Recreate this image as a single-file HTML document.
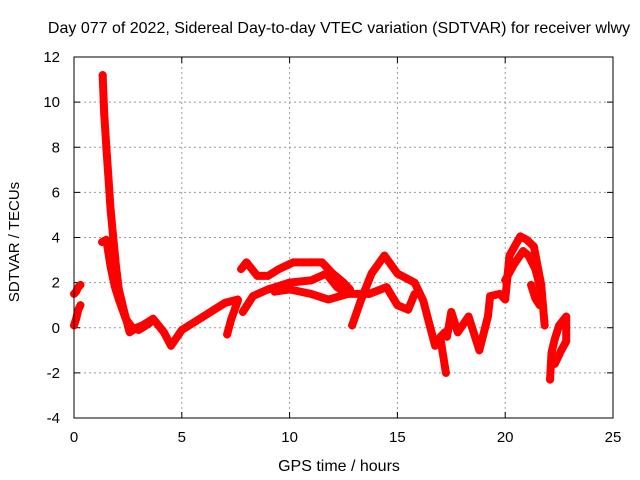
<!DOCTYPE html>
<html><head><meta charset="utf-8"><style>
body{margin:0;background:#fff}
svg{display:block;font-family:"Liberation Sans",sans-serif}
</style></head><body>
<svg id="chart" width="640" height="480">
<rect width="640" height="480" fill="#fff"/>
<text x="339" y="33" font-size="16" text-anchor="middle">Day 077 of 2022, Sidereal Day-to-day VTEC variation (SDTVAR) for receiver wlwy</text>
<text x="339" y="471" font-size="16" text-anchor="middle">GPS time / hours</text>
<text x="0" y="0" transform="translate(19,242) rotate(-90)" font-size="15" text-anchor="middle">SDTVAR / TECUs</text>
<g id="grid"></g>
<g id="ticks"></g>
<g id="series"></g>
<rect x="74" y="57" width="539" height="361" fill="none" stroke="#000"/>
</svg>
<script>
const xTicks=[0,5,10,15,20,25];
const yTicks=[-4,-2,0,2,4,6,8,10,12];
const trackStartA=[[0,1.5],[0.1,1.6],[0.2,1.8],[0.3,1.9]];
const trackStartB=[[0,0.1],[0.1,0.4],[0.2,0.8],[0.3,1.0]];
const trackSpike=[[1.33,11.2],[1.4,9.5],[1.5,8],[1.58,6.9],[1.7,5.2],[1.83,3.9],[1.95,2.7],[2.08,1.7],[2.33,0.7],[2.58,-0.2],[2.9,0.0],[3.17,0.1],[3.67,0.4],[4.17,-0.2],[4.5,-0.8],[5,-0.1],[5.5,0.2],[6,0.5],[6.5,0.8],[7,1.1],[7.6,1.25]];
const trackSpike2=[[1.3,3.8],[1.5,3.9],[1.7,2.7],[1.9,1.8],[2.1,1.2],[2.4,0.4],[2.7,0.0],[3.0,-0.1],[3.5,0.2]];
const trackDip=[[7.1,-0.3],[7.3,0.4],[7.6,1.2]];
const trackUpper=[[7.75,2.6],[8,2.9],[8.5,2.3],[9,2.3],[9.5,2.6],[10.17,2.9],[11,2.9],[11.5,2.9],[12,2.4],[12.5,2.0],[12.8,1.7]];
const trackMiddle=[[7.83,0.7],[8.3,1.4],[9,1.7],[10,2.0],[11,2.1],[11.7,2.4],[12.2,1.8],[12.7,1.5]];
const trackLower=[[9.3,1.6],[10,1.7],[11,1.5],[11.8,1.25],[12.7,1.5],[13.7,1.5],[14.5,1.8],[15,1.0],[15.5,0.8],[15.8,1.5]];
const trackPeak=[[12.9,0.1],[13.3,1.2],[13.8,2.4],[14.4,3.2],[15,2.4],[15.8,2.0],[16.2,1.2],[16.5,0.1],[16.75,-0.8],[17.0,-0.4],[17.2,-0.2]];
const trackDrop=[[17.0,-0.5],[17.25,-2.0]];
const trackLate=[[17.3,-0.4],[17.5,0.7],[17.8,-0.2],[18.3,0.5],[18.8,-1.0],[19.2,0.5],[19.3,1.4],[19.75,1.5],[20,1.25],[20.2,3.2],[20.7,4.05],[21,3.9],[21.33,3.6],[21.67,1.9],[21.83,0.1]];
const trackInner=[[20,2.1],[20.4,2.8],[20.83,3.4],[21.08,3.2],[21.4,2.6],[21.7,1.5]];
const trackBranch=[[21.2,1.9],[21.4,1.3],[21.6,1.0]];
const trackEnd=[[22.08,-2.3],[22.15,-1.1],[22.3,-0.5],[22.5,0.1],[22.83,0.5],[22.83,-0.6],[22.6,-1.0],[22.3,-1.6]];
const tracks=[trackStartA,trackStartB,trackSpike,trackSpike2,trackDip,trackUpper,trackMiddle,trackLower,trackPeak,trackDrop,trackLate,trackInner,trackBranch,trackEnd];
const NS="http://www.w3.org/2000/svg";
const X=v=>74+v*539/25, Y=v=>418-(v+4)*361/16;
const grid=document.getElementById('grid'),ticks=document.getElementById('ticks'),ser=document.getElementById('series');
function mk(tag,attrs,parent){const e=document.createElementNS(NS,tag);for(const k in attrs)e.setAttribute(k,attrs[k]);parent.appendChild(e);return e;}
xTicks.forEach(t=>{
 if(t>0&&t<25){const g=mk('line',{x1:X(t),x2:X(t),y1:57,y2:418,stroke:'#999','stroke-dasharray':'2,3'},grid);
 
 }
 const l=mk('text',{x:X(t),y:442,'font-size':15,'text-anchor':'middle'},ticks);l.textContent=t;
 
 
 mk('line',{x1:X(t),x2:X(t),y1:418,y2:412,stroke:'#000'},ticks);
 mk('line',{x1:X(t),x2:X(t),y1:57,y2:63,stroke:'#000'},ticks);
});
yTicks.forEach(t=>{
 if(t>-4&&t<12){const g=mk('line',{x1:74,x2:613,y1:Y(t),y2:Y(t),stroke:'#999','stroke-dasharray':'2,3'},grid);
 
 }
 const l=mk('text',{x:60,y:Y(t)+5,'font-size':15,'text-anchor':'end'},ticks);l.textContent=t;
 
 
 mk('line',{x1:74,x2:80,y1:Y(t),y2:Y(t),stroke:'#000'},ticks);
 mk('line',{x1:613,x2:607,y1:Y(t),y2:Y(t),stroke:'#000'},ticks);
});
tracks.forEach(tr=>{
 const p=mk('polyline',{points:tr.map(d=>X(d[0])+','+Y(d[1])).join(' '),fill:'none',stroke:'#f00','stroke-width':8,'stroke-linejoin':'round','stroke-linecap':'round'},ser);
 
 
 tr.forEach(d=>{
  const m=mk('path',{d:`M${X(d[0])-4},${Y(d[1])}h8M${X(d[0])},${Y(d[1])-4}v8`,stroke:'#f00','stroke-width':1.2},ser);
  
  
 });
});
</script>
</body></html>
